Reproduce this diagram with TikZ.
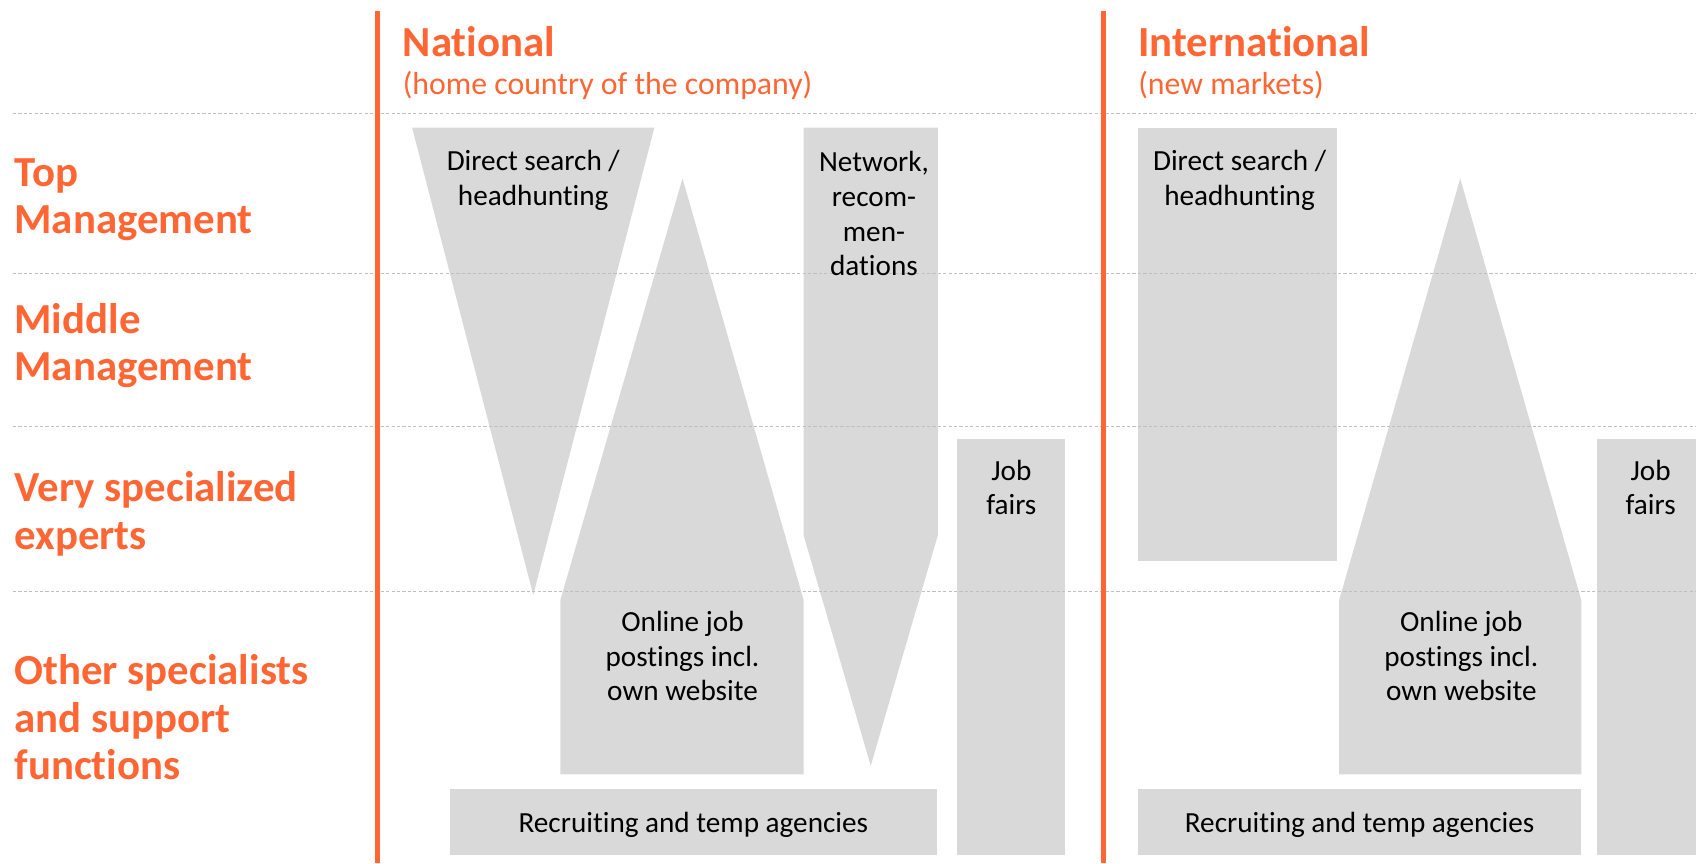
\documentclass[tikz,border=0pt]{standalone}
\usepackage{fontspec}
\setmainfont{Carlito}[Ligatures=NoCommon]
\usetikzlibrary{positioning}
\definecolor{accent}{HTML}{FF6633}
\definecolor{boxgray}{HTML}{D9D9D9}
\definecolor{rulegray}{HTML}{BFBFBF}
\tikzset{
  rowlbl/.style={anchor=base west, inner sep=0pt, align=left, text=accent, font=\fontsize{19.8}{22}\selectfont\bfseries},
  colhead/.style={anchor=base west, inner sep=0pt, text=accent, font=\fontsize{19.8}{24}\selectfont\bfseries},
  colsub/.style={anchor=base west, inner sep=0pt, text=accent, font=\fontsize{14.7}{17}\selectfont},
  boxtxt/.style={anchor=base, inner sep=0pt, align=center, font=\fontsize{13.5}{16}\selectfont},
  sep/.style={rulegray, line width=0.5pt, dash pattern=on 1.5pt off 1pt},
  divider/.style={accent, line width=2.5pt},
  shade/.style={fill=boxgray}
}

\begin{document}
\begin{tikzpicture}[x=0.5pt,y=-0.5pt]
\useasboundingbox (0,0) rectangle (1568,798);
% national
\fill[shade] (381,118) -- (605,118) -- (493,550) -- cycle;
\fill[shade] (631,165) -- (743,555) -- (743,716) -- (518,716) -- (518,555) -- cycle;
\fill[shade] (743,118) -- (867,118) -- (867,495) -- (805,708) -- (743,495) -- cycle;
\fill[shade] (885,406) rectangle (985,790);
\fill[shade] (416,729) rectangle (866,790);
% international
\fill[shade] (1052,118) rectangle (1236,519);
\fill[shade] (1350,165) -- (1462,555) -- (1462,716) -- (1238,716) -- (1238,555) -- cycle;
\fill[shade] (1476,406) rectangle (1568,790);
\fill[shade] (1052,729) rectangle (1462,790);
% rows
\foreach \y in {105,253,394,547}
  \draw[sep] (12,\y) -- (1568,\y);
\draw[divider] (349,10) -- (349,798);
\draw[divider] (1020,10) -- (1020,798);

\node[colhead] (natl) at (372,52) {National};
\node[colsub] (natlsub) at (372,87) {(home country of the company)};
\node[colhead] (intl) at (1052,52) {International};
\node[colsub] (intlsub) at (1052,87) {(new markets)};

% base = last line
\node[rowlbl] (top) at (13,216) {Top\\Management};
\node[rowlbl] (mid) at (13,352) {Middle\\Management};
\node[rowlbl] (exp) at (13,508) {Very specialized\\experts};
\node[rowlbl] (oth) at (13,721) {Other specialists\\and support\\functions};

\node[boxtxt] (dsN) at (493,190) {Direct search /\\headhunting};
\node[boxtxt] (ojN) at (631,648) {Online job\\postings incl.\\own website};
\node[boxtxt] (nwN) at (808,255) {Network,\\recom-\\men-\\dations};
\node[boxtxt] (jfN) at (935,476) {Job\\fairs};
\node[boxtxt] (raN) at (641,770) {Recruiting and temp agencies};
\node[boxtxt] (dsI) at (1146,190) {Direct search /\\headhunting};
\node[boxtxt] (ojI) at (1351,648) {Online job\\postings incl.\\own website};
\node[boxtxt] (jfI) at (1526,476) {Job\\fairs};
\node[boxtxt] (raI) at (1257,770) {Recruiting and temp agencies};
\end{tikzpicture}
\end{document}
